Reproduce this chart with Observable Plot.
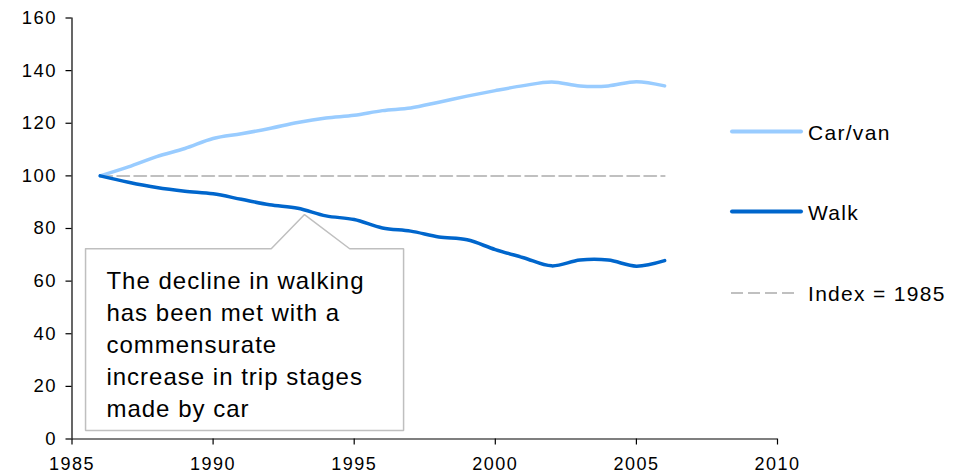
<!DOCTYPE html>
<html>
<head>
<meta charset="utf-8">
<script src="https://cdn.jsdelivr.net/npm/d3@7"></script>
<script src="https://cdn.jsdelivr.net/npm/@observablehq/plot@0.6"></script>
<style>
  html, body { margin: 0; padding: 0; background: #fff; }
  #wrap { position: relative; width: 959px; height: 475px; font-family: "Liberation Sans", Arial, sans-serif; }
  #legend { position: absolute; left: 0; top: 0; pointer-events: none; }
</style>
</head>
<body>
<div id="wrap"></div>
<script>
// ---- data ----
const years = [1986, 1987, 1988, 1989, 1990, 1991, 1992, 1993, 1994, 1995, 1996, 1997, 1998, 1999, 2000, 2001, 2002, 2003, 2004, 2005, 2006];
const carVan = [100, 103.4, 107.3, 110.4, 114.2, 116, 118, 120.3, 122, 123, 124.8, 125.8, 128, 130.3, 132.4, 134.3, 135.7, 134.2, 134.2, 135.8, 134.2];
const walk   = [100, 97.6, 95.6, 94.2, 93.2, 91.1, 89, 87.7, 84.8, 83.4, 80.2, 79, 76.8, 75.7, 72, 68.9, 65.8, 68, 68, 65.7, 67.8];
const indexYears = [1986, 2006];
const indexValues = [100, 100];
const seriesNames = ["Car/van", "Walk", "Index = 1985"];
const xTicks = [1985, 1990, 1995, 2000, 2005, 2010];
const yTicks = [0, 20, 40, 60, 80, 100, 120, 140, 160];
const calloutText = "The decline in walking\nhas been met with a\ncommensurate\nincrease in trip stages\nmade by car";
// callout outline (year, value) and text anchor
const calloutX = [1985.48, 1992.06, 1993.24, 1994.84, 1996.75, 1996.75, 1985.48, 1985.48];
const calloutY = [72.3, 72.3, 85.3, 72.3, 72.3, 3.2, 3.2, 72.3];
const calloutTextPos = [1986.22, 65.6];

const colors = {car: "#99ccff", walk: "#0066cc", index: "#c0c0c0"};
const font = '"Liberation Sans", Arial, sans-serif';

const carData = years.map((y, i) => ({year: y, value: carVan[i]}));
const walkData = years.map((y, i) => ({year: y, value: walk[i]}));
const indexData = indexYears.map((y, i) => ({year: y, value: indexValues[i]}));
const calloutData = calloutX.map((x, i) => ({x, y: calloutY[i]}));

const chart = Plot.plot({
  width: 959,
  height: 475,
  marginLeft: 71.5,
  marginRight: 182,
  marginTop: 17.5,
  marginBottom: 36.5,
  style: {fontFamily: font, fontSize: "18.5px", color: "#000", background: "#fff", overflow: "visible"},
  x: {domain: [1985, 2010]},
  y: {domain: [0, 160]},
  marks: [
    Plot.axisX({ticks: xTicks, tickFormat: "d", tickSize: 6, tickPadding: 12, label: null, fontSize: 18, stroke: "#000", strokeWidth: 1.2, fill: "#000"}),
    Plot.axisY({ticks: yTicks, tickSize: 6, tickPadding: 9, label: null, fontSize: 18.5, stroke: "#000", strokeWidth: 1.2, fill: "#000"}),
    Plot.ruleY([0], {stroke: "#000", strokeWidth: 1.2}),
    Plot.ruleX([1985], {stroke: "#000", strokeWidth: 1.2}),
    Plot.line(indexData, {x: "year", y: "value", stroke: colors.index, strokeWidth: 2, strokeDasharray: "12,5"}),
    Plot.line(carData, {x: "year", y: "value", stroke: colors.car, strokeWidth: 3.5, curve: "catmull-rom"}),
    Plot.line(walkData, {x: "year", y: "value", stroke: colors.walk, strokeWidth: 3.5, curve: "catmull-rom"}),
    Plot.line(calloutData, {x: "x", y: "y", stroke: "#bfbfbf", strokeWidth: 1.5, fill: "#fff", strokeLinejoin: "miter"}),
    Plot.text([calloutText], {x: () => calloutTextPos[0], y: () => calloutTextPos[1], text: d => d, textAnchor: "start", lineAnchor: "top", lineHeight: 1.333, fontSize: 24, fill: "#000"})
  ]
});
chart.querySelectorAll("[aria-label='x-axis tick label'] text, [aria-label='y-axis tick label'] text").forEach(t => t.setAttribute("letter-spacing", "1.5"));
chart.querySelectorAll("[aria-label='text'] text").forEach(t => t.setAttribute("letter-spacing", "1"));
document.getElementById("wrap").appendChild(chart);

// ---- legend (HTML overlay) ----
const ns = "http://www.w3.org/2000/svg";
const leg = document.createElementNS(ns, "svg");
leg.setAttribute("id", "legend");
leg.setAttribute("width", 959);
leg.setAttribute("height", 475);
const entries = [
  {name: seriesNames[0], color: colors.car, w: 4, dash: null, y: 131.5},
  {name: seriesNames[1], color: colors.walk, w: 4, dash: null, y: 211.5},
  {name: seriesNames[2], color: colors.index, w: 2, dash: "12,5", y: 293}
];
entries.forEach(e => {
  const l = document.createElementNS(ns, "line");
  l.setAttribute("x1", e.dash ? 731 : 732); l.setAttribute("x2", e.dash ? 797 : 801);
  l.setAttribute("y1", e.y); l.setAttribute("y2", e.y);
  l.setAttribute("stroke", e.color); l.setAttribute("stroke-width", e.w);
  if (e.dash) l.setAttribute("stroke-dasharray", e.dash); else l.setAttribute("stroke-linecap", "round");
  leg.appendChild(l);
  const t = document.createElementNS(ns, "text");
  t.setAttribute("x", 808); t.setAttribute("y", e.y + 8);
  t.setAttribute("font-family", font); t.setAttribute("font-size", 21);
  t.setAttribute("letter-spacing", "1.3"); t.setAttribute("fill", "#000");
  t.textContent = e.name;
  leg.appendChild(t);
});
document.getElementById("wrap").appendChild(leg);
</script>
</body>
</html>
